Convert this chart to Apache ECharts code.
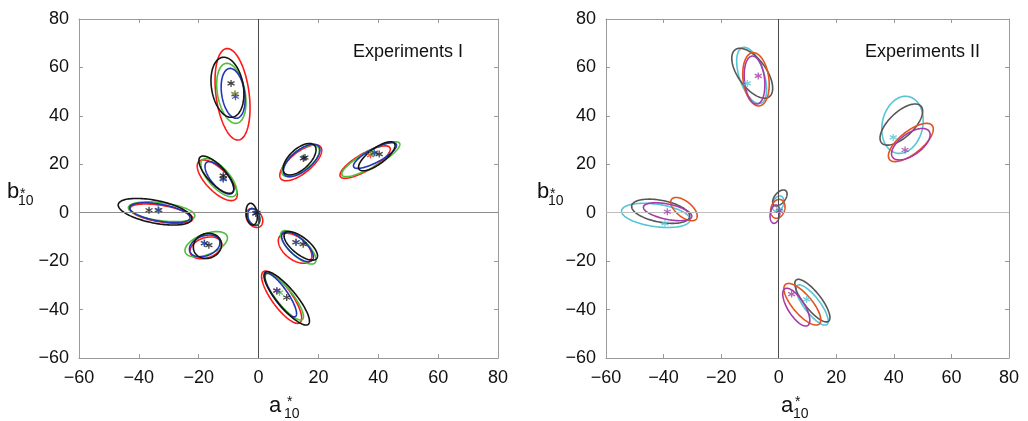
<!DOCTYPE html>
<html>
<head>
<meta charset="utf-8">
<script src="https://cdn.jsdelivr.net/npm/echarts@6/dist/echarts.min.js"></script>
<style>
  html, body { margin: 0; padding: 0; background: #fff; }
  #chart { width: 1028px; height: 421px; }
</style>
</head>
<body>
<div id="chart"></div>
<script>
// axis range shared by both panels
var axisMin = -60
var axisMax = 80
var axisStep = 20

// ellipse rows: [centre a*, centre b*, half width in a*, half height in b*, correlation]
// Experiments I
var expIRed = [
  [-8.7, 48.9, 5.85, 18.9, -0.3],
  [-13.8, 13.4, 6.7, 8.4, -0.7],
  [-32.5, -0.4, 10.5, 4.0, -0.5],
  [-1.4, -2.2, 2.8, 3.9, -0.3],
  [-17.6, -14.5, 5.3, 4.5, 0.3],
  [12.2, -14.7, 5.6, 6.2, -0.5],
  [7.7, -34.9, 6.7, 10.8, -0.8],
  [14.1, 20.6, 7.0, 7.4, 0.7],
  [35.6, 20.9, 8.4, 6.7, 0.8]
]
var expIGreen = [
  [-9.1, 49.3, 4.9, 12.4, -0.3],
  [-13.3, 14.5, 6.0, 7.9, -0.7],
  [-32.4, 0.4, 11.1, 4.1, -0.4],
  [-1.6, -1.7, 2.1, 3.4, -0.3],
  [-17.5, -13.0, 7.1, 5.2, 0.5],
  [13.3, -14.3, 5.9, 6.9, -0.75],
  [8.6, -34.7, 6.4, 9.6, -0.85],
  [14.0, 21.4, 6.3, 6.5, 0.65],
  [37.5, 22.1, 9.7, 7.2, 0.85]
]
var expIBlue = [
  [-8.5, 49.3, 4.0, 10.3, -0.25],
  [-13.1, 14.4, 4.8, 6.7, -0.7],
  [-33.0, 0.0, 10.1, 4.1, -0.5],
  [-1.6, -1.8, 2.0, 3.5, -0.3],
  [-18.0, -13.7, 5.1, 4.5, 0.3],
  [13.0, -14.0, 5.3, 6.2, -0.7],
  [7.4, -34.0, 5.3, 9.0, -0.85],
  [14.4, 21.6, 6.1, 6.7, 0.65],
  [38.9, 23.6, 7.2, 5.3, 0.8]
]
var expIBlack = [
  [-10.4, 51.8, 5.5, 12.4, -0.22],
  [-14.1, 15.7, 5.85, 7.7, -0.75],
  [-34.6, 0.4, 12.3, 5.5, -0.5],
  [-2.3, -0.6, 1.9, 4.5, -0.2],
  [-17.1, -13.7, 4.7, 5.2, 0.1],
  [14.1, -13.7, 5.6, 5.9, -0.7],
  [9.4, -35.4, 7.6, 11.0, -0.85],
  [13.7, 22.1, 5.5, 6.5, 0.6],
  [39.5, 23.3, 6.1, 6.0, 0.75]
]
// mean points (asterisks)
var expIRedStar = [[-7.9, 49.0], [-11.8, 14.2], [-33.3, 1.0], [-0.9, -0.3], [-18.1, -12.6], [12.5, -12.2], [6.1, -32.2], [15.0, 22.5], [37.4, 23.8]]
var expIGreenStar = [[-7.9, 49.0], [-11.8, 14.0], [-33.5, 1.1], [-0.9, -0.3], [-18.1, -12.6], [12.5, -12.2], [7.0, -33.0], [15.0, 22.5], [38.2, 24.5]]
var expIBlueStar = [[-7.7, 47.9], [-11.8, 13.9], [-33.5, 1.1], [-0.9, -0.3], [-18.1, -12.6], [12.5, -12.2], [6.1, -32.2], [15.0, 22.5], [38.7, 24.8]]
var expIBlackStar = [[-9.2, 53.4], [-11.8, 15.3], [-36.6, 1.0], [-0.5, 0.0], [-16.6, -13.4], [14.9, -13.0], [9.4, -35.0], [15.5, 22.8], [40.3, 24.2]]

// Experiments II
var expIICyan = [
  [-9.4, 56.7, 5.2, 11.6, -0.5],
  [-42.7, -1.1, 11.9, 5.0, -0.35],
  [-0.2, 3.7, 2.0, 3.2, 0.3],
  [43.0, 36.3, 7.2, 11.8, 0.15],
  [11.6, -38.1, 5.6, 8.3, -0.8]
]
var expIIGray = [
  [-9.2, 57.6, 7.1, 10.3, -0.6],
  [-41.0, 0.6, 10.1, 5.0, -0.4],
  [0.4, 6.1, 2.5, 3.3, 0.5],
  [42.6, 36.4, 7.4, 8.5, 0.65],
  [11.7, -36.3, 6.1, 8.8, -0.8]
]
var expIIOrange = [
  [-7.9, 55.1, 4.6, 11.0, -0.2],
  [-32.9, 1.5, 4.6, 4.8, -0.6],
  [-0.3, 1.6, 2.5, 3.9, 0.2],
  [45.9, 29.0, 7.8, 7.9, 0.7],
  [8.2, -37.8, 6.4, 8.6, -0.75]
]
var expIIMagenta = [
  [-8.4, 54.8, 3.6, 9.9, -0.2],
  [-38.6, 0.4, 8.4, 3.7, -0.5],
  [-1.3, -0.6, 1.7, 3.8, 0.2],
  [45.9, 28.3, 6.7, 6.5, 0.6],
  [6.1, -39.0, 4.7, 7.8, -0.7]
]
var expIICyanStar = [[-10.9, 53.4], [-39.5, -4.4], [0.2, 1.5], [39.8, 31.1], [9.7, -35.8]]
var expIIMagentaStar = [[-7.1, 56.5], [-38.7, 0.4], [0.2, 0.8], [43.9, 25.9], [4.5, -33.6]]

var FONT = '"Liberation Sans", Arial, sans-serif'
var STAR = 'path://M0,-1L0,1M-0.87,-0.5L0.87,0.5M-0.87,0.5L0.87,-0.5'

function fmt (v) {
  return String(v).replace('-', '\u2212')
}

function valueAxis (grid, pos, labels) {
  return {
    type: 'value',
    gridIndex: grid,
    position: pos,
    min: axisMin,
    max: axisMax,
    interval: axisStep,
    axisLine: { show: true, onZero: false, lineStyle: { color: '#9a9a9a', width: 1 } },
    axisTick: { show: true, inside: true, length: 4, lineStyle: { color: '#9a9a9a' } },
    splitLine: { show: false },
    axisLabel: {
      show: labels,
      formatter: fmt,
      color: '#111',
      fontSize: 18,
      fontFamily: FONT,
      margin: (pos === 'left' || pos === 'right') ? 10 : 11
    }
  }
}

// one custom series draws the ellipses of one colour
function ellipses (data, color, idx) {
  return {
    type: 'custom',
    xAxisIndex: idx,
    yAxisIndex: idx,
    data: data,
    silent: true,
    encode: { x: 0, y: 1 },
    renderItem: function (params, api) {
      var ca = api.value(0)
      var cb = api.value(1)
      var sa = api.value(2)
      var sb = api.value(3)
      var r = api.value(4)
      var q = Math.sqrt(1 - r * r)
      var pts = []
      for (var k = 0; k < 120; k++) {
        var t = k / 120 * Math.PI * 2
        pts.push(api.coord([ca + sa * Math.cos(t), cb + sb * (r * Math.cos(t) + q * Math.sin(t))]))
      }
      return {
        type: 'polygon',
        shape: { points: pts },
        style: { fill: 'none', stroke: color, lineWidth: 1.6 }
      }
    }
  }
}

function stars (data, color, idx, extra) {
  var s = {
    type: 'scatter',
    xAxisIndex: idx,
    yAxisIndex: idx,
    data: data,
    symbol: STAR,
    symbolSize: 7,
    silent: true,
    z: 5,
    itemStyle: { color: color, borderColor: color, borderWidth: 1.3 }
  }
  if (extra) s.markLine = extra
  return s
}

function zeroLines (vColor, hColor) {
  return {
    silent: true,
    symbol: ['none', 'none'],
    label: { show: false },
    animation: false,
    data: [
      { xAxis: 0, lineStyle: { color: vColor, width: 1, type: 'solid' } },
      { yAxis: 0, lineStyle: { color: hColor, width: 1, type: 'solid' } }
    ]
  }
}

function txt (x, y, s, size) {
  return {
    type: 'text',
    x: x,
    y: y,
    style: { text: s, font: size + 'px ' + FONT, fill: '#111', textAlign: 'left', textVerticalAlign: 'middle' }
  }
}

var chart = echarts.init(document.getElementById('chart'))
chart.setOption({
  animation: false,
  grid: [
    { left: 79, top: 19, width: 419, height: 339, show: false },
    { left: 606, top: 19, width: 403, height: 339, show: false }
  ],
  xAxis: [
    valueAxis(0, 'bottom', true),
    valueAxis(1, 'bottom', true),
    valueAxis(0, 'top', false),
    valueAxis(1, 'top', false)
  ],
  yAxis: [
    valueAxis(0, 'left', true),
    valueAxis(1, 'left', true),
    valueAxis(0, 'right', false),
    valueAxis(1, 'right', false)
  ],
  graphic: [
    txt(353, 52, 'Experiments I', 18),
    txt(865, 52, 'Experiments II', 18),
    // b*10 labels
    txt(7, 192, 'b', 22), txt(20, 194, '*', 14), txt(18, 201, '10', 14),
    txt(537, 192, 'b', 22), txt(550, 194, '*', 14), txt(548, 201, '10', 14),
    // a*10 labels
    txt(269, 406, 'a', 22), txt(287, 402, '*', 14), txt(284, 414, '10', 14),
    txt(781, 406, 'a', 22), txt(795, 402, '*', 14), txt(793, 414, '10', 14)
  ],
  series: [
    stars(expIRedStar, '#ff1a1a', 0, zeroLines('#4a4a4a', '#8c8c8c')),
    ellipses(expIRed, '#ff1a1a', 0),
    ellipses(expIGreen, '#4fbf3a', 0),
    ellipses(expIBlue, '#2236b8', 0),
    ellipses(expIBlack, '#151515', 0),
    stars(expIGreenStar, '#4fbf3a', 0),
    stars(expIBlueStar, '#2236b8', 0),
    stars(expIBlackStar, '#151515', 0),
    stars(expIICyanStar, '#56c5d6', 1, zeroLines('#4a4a4a', '#bdbdbd')),
    ellipses(expIICyan, '#56c5d6', 1),
    ellipses(expIIGray, '#575757', 1),
    ellipses(expIIOrange, '#e2541e', 1),
    ellipses(expIIMagenta, '#a83aa8', 1),
    stars(expIIMagentaStar, '#a83aa8', 1)
  ]
})
</script>
</body>
</html>
